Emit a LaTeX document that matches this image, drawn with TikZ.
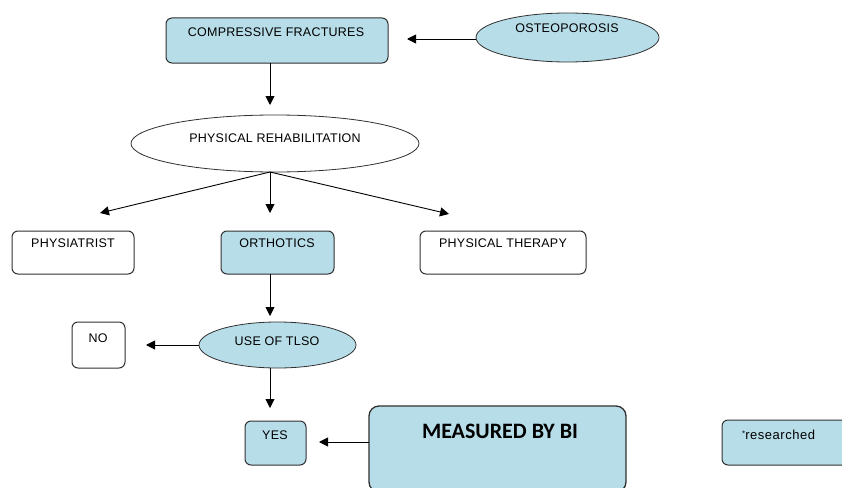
\documentclass[tikz,border=0pt]{standalone}
\usepackage{fontspec}
\setmainfont{Liberation Sans}
\newfontfamily\boldcal{Carlito}
\usetikzlibrary{shapes.geometric,arrows.meta}
\definecolor{lb}{HTML}{B7DDE8}
\definecolor{ln}{HTML}{303030}
\begin{document}
\begin{tikzpicture}[x=1pt,y=-1pt,
  box/.style={draw=ln,line width=1pt,rounded corners=6pt,inner sep=0pt},
  oval/.style={draw=ln,line width=0.8pt,ellipse,inner sep=0pt},
  txt/.style={font=\fontsize{12.5}{14}\selectfont\addfontfeature{LetterSpace=2},inner sep=0pt},
  arr/.style={draw=black,line width=0.9pt,-{Triangle[length=9pt,width=9pt]}}]
\useasboundingbox (0,0) rectangle (842,487);
% top
\node[box,fill=lb,minimum width=222pt,minimum height=45pt] (cf) at (277,40.5) {};
\node[txt] (cft) at (276,32) {COMPRESSIVE FRACTURES};
\node[oval,fill=lb,minimum width=183pt,minimum height=49pt] (os) at (567.5,37.5) {};
\node[txt] (ost) at (567,28) {OSTEOPOROSIS};
\node[oval,fill=white,minimum width=288pt,minimum height=57pt] (pr) at (275,143.5) {};
\node[txt] (prt) at (275,138) {PHYSICAL REHABILITATION};
% row
\node[box,fill=white,minimum width=122pt,minimum height=43pt] (ph) at (73,252.5) {};
\node[txt] (pht) at (73,243) {PHYSIATRIST};
\node[box,fill=lb,minimum width=113pt,minimum height=43pt] (or) at (277.5,252.5) {};
\node[txt] (ort) at (277,243) {ORTHOTICS};
\node[box,fill=white,minimum width=166pt,minimum height=43pt] (pt) at (503,252.5) {};
\node[txt] (ptt) at (503,243) {PHYSICAL THERAPY};
% tlso
\node[oval,fill=lb,minimum width=157pt,minimum height=46pt] (tl) at (277.5,345) {};
\node[txt] (tlt) at (277,341) {USE OF TLSO};
\node[box,fill=white,minimum width=53pt,minimum height=46pt] (no) at (98.5,345) {};
\node[txt] (not) at (98,338) {NO};
\node[box,fill=lb,minimum width=61pt,minimum height=44pt] (ye) at (275.5,443) {};
\node[txt] (yet) at (275,435) {YES};
\node[box,fill=lb,line width=1.3pt,rounded corners=10pt,minimum width=257pt,minimum height=86pt] (mb) at (497.5,449) {};
\node[inner sep=0pt,font=\boldcal\bfseries\fontsize{22}{24}\selectfont] (mbt) at (500,431) {MEASURED BY BI};
\node[box,fill=lb,minimum width=130pt,minimum height=45pt] (rs) at (787,442.5) {};
\node[inner sep=0pt,font=\fontsize{13}{14}\selectfont\addfontfeature{LetterSpace=4},anchor=west] (rst) at (742,435) {\raisebox{3pt}{\fontsize{8}{8}\selectfont *}researched};
% arrows
\coordinate (a1s) at (476,39); \coordinate (a1e) at (407,39);
\draw[arr] (a1s) -- (a1e);
\coordinate (a2s) at (270,63); \coordinate (a2e) at (270,105);
\draw[arr] (a2s) -- (a2e);
\coordinate (a3s) at (270,172);
\coordinate (a3l) at (100,213); \coordinate (a3m) at (270,213); \coordinate (a3r) at (449,214);
\draw[arr] (a3s) -- (a3l);
\draw[arr] (a3s) -- (a3m);
\draw[arr] (a3s) -- (a3r);
\coordinate (a4s) at (270,274); \coordinate (a4e) at (270,316);
\draw[arr] (a4s) -- (a4e);
\coordinate (a5s) at (199,345); \coordinate (a5e) at (146,345);
\draw[arr] (a5s) -- (a5e);
\coordinate (a6s) at (270,368); \coordinate (a6e) at (270,408);
\draw[arr] (a6s) -- (a6e);
\coordinate (a7s) at (369,442); \coordinate (a7e) at (319,442);
\draw[arr] (a7s) -- (a7e);
\end{tikzpicture}
\end{document}
